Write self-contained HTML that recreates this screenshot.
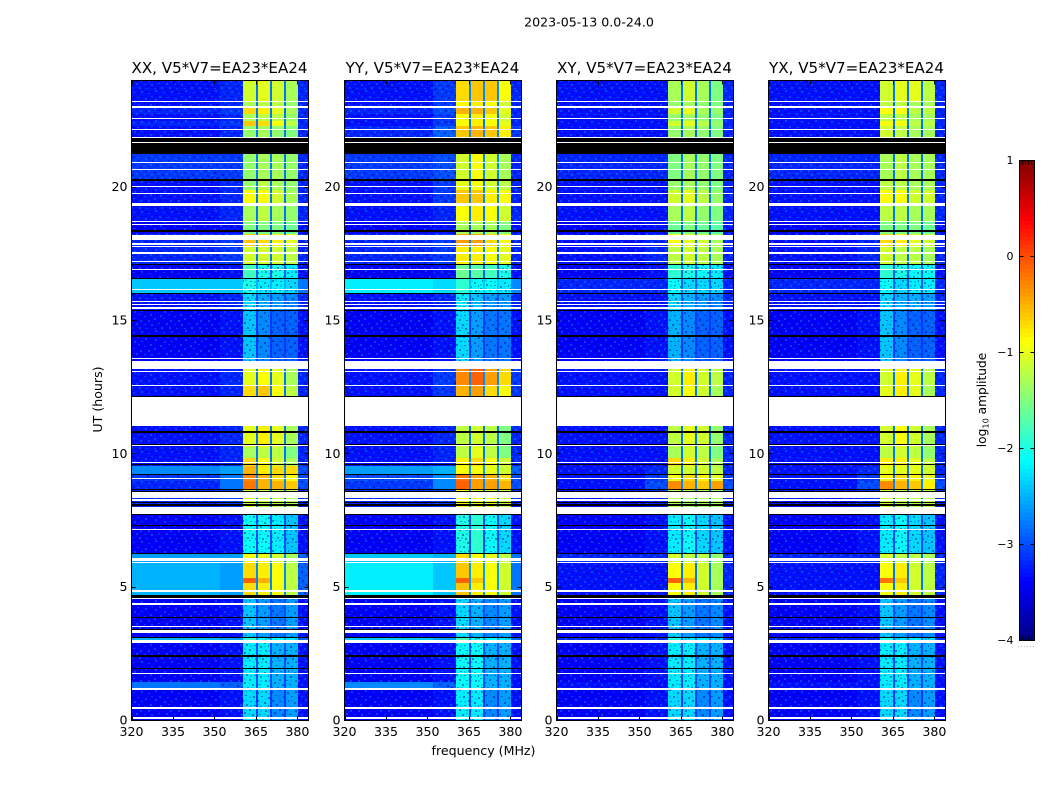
<!DOCTYPE html>
<html>
<head>
<meta charset="utf-8">
<title>2023-05-13 0.0-24.0</title>
<style>
html,body{margin:0;padding:0;background:#fff;}
svg{display:block;}
text{font-family:"DejaVu Sans","Liberation Sans",sans-serif;fill:#000;}
</style>
</head>
<body>
<svg id="chart" width="1050" height="800" viewBox="0 0 1050 800" xmlns="http://www.w3.org/2000/svg">
  <defs>
    <pattern id="speckle" patternUnits="userSpaceOnUse" width="30" height="30">
      <path fill="#00007a" fill-opacity="0.45" d="M1 1h2v2h-2zM9 0h2v1h-2zM17 2h2v2h-2zM25 1h2v2h-2zM5 5h2v1h-2zM13 6h2v2h-2zM21 6h2v1h-2zM28 7h2v2h-2zM2 10h2v2h-2zM10 11h2v1h-2zM18 10h1v2h-1zM24 12h2v2h-2zM6 14h2v2h-2zM14 15h2v1h-2zM20 16h2v2h-2zM28 15h1v2h-1zM0 18h2v1h-2zM9 19h2v2h-2zM16 20h2v1h-2zM25 20h2v2h-2zM4 22h2v2h-2zM12 24h2v2h-2zM19 24h2v1h-2zM27 25h2v2h-2zM1 27h2v1h-2zM7 27h2v2h-2zM15 28h2v2h-2zM22 28h2v2h-2z"/>
      <path fill="#0090ff" fill-opacity="0.45" d="M5 0h2v2h-2zM13 2h2v1h-2zM21 1h2v2h-2zM28 3h2v1h-2zM1 6h2v1h-2zM9 6h2v2h-2zM17 7h2v1h-2zM25 8h2v2h-2zM5 9h2v2h-2zM14 11h2v2h-2zM21 11h2v1h-2zM0 14h2v2h-2zM10 15h2v2h-2zM18 14h2v1h-2zM24 16h2v1h-2zM4 18h2v2h-2zM13 18h2v1h-2zM20 20h2v2h-2zM28 20h2v2h-2zM8 23h2v1h-2zM16 23h2v2h-2zM24 24h2v1h-2zM1 24h2v2h-2zM11 27h2v2h-2zM19 27h2v2h-2zM26 28h2v1h-2zM4 28h2v1h-2z"/>
    </pattern>
  </defs>

  <text x="589" y="26.5" text-anchor="middle" font-size="12.6">2023-05-13 0.0-24.0</text>
  <text x="483.5" y="755" text-anchor="middle" font-size="12.6">frequency (MHz)</text>
  <text transform="translate(102,399.5) rotate(-90)" text-anchor="middle" font-size="12.6">UT (hours)</text>

  <g id="panels"></g>

  <g id="colorbar"></g>
  <text transform="translate(986,400) rotate(-90)" text-anchor="middle" font-size="12.2">log<tspan font-size="8.2" dy="2.5">10</tspan><tspan dy="-2.5"> amplitude</tspan></text>
  <text x="1026.5" y="647" text-anchor="middle" font-size="6" letter-spacing="1" style="fill:#777">......</text>
</svg>

<script>
// ---- Data ----
const panelTitles = ["XX, V5*V7=EA23*EA24", "YY, V5*V7=EA23*EA24", "XY, V5*V7=EA23*EA24", "YX, V5*V7=EA23*EA24"];
const polarisations = ["xx", "yy", "xy", "yx"];
const xTicks = [320, 335, 350, 365, 380];
const yTicks = [0, 5, 10, 15, 20];
const colorbarTicks = [1, 0, -1, -2, -3, -4];
const colorbarTickLabels = ["1", "0", "\u22121", "\u22122", "\u22123", "\u22124"];

// Frequency channels (MHz), low and high edge; each maps to one column of a level row.
const channelLow  = [320, 352, 360.4, 364.9, 365.6, 370.1, 370.7, 375.3, 375.9, 380.1];
const channelHigh = [352, 360.4, 364.9, 365.6, 370.1, 370.7, 375.3, 375.9, 380.1, 384];
const channelColumn = [0, 1, 2, 7, 3, 7, 4, 7, 5, 6];

// Upper edge of every time row, UT hours (the last row runs down to 0).
const rowTops = [24.00, 23.24, 22.98, 22.76, 22.50, 22.31, 21.23, 20.25, 19.88, 19.39, 18.71, 18.23,
  17.76, 17.10, 16.58, 16.01, 15.38, 13.20, 12.56, 12.15, 10.24, 9.86, 9.56, 9.23, 9.00, 8.66, 7.95,
  6.26, 5.89, 5.36, 5.14, 4.65, 3.11, 2.96, 1.43, 1.20];

// log10 amplitude x10. Columns: bg-low, bg-high, band1, band2, band3, band4, upper-edge, notch.
const xx = [
[-33,-32,-11,-10,-11,-13,-32,-28],[-33,-32,-13,-12,-12,-14,-32,-28],[-32,-31,-7,-8,-10,-13,-32,-28],
[-33,-32,-13,-12,-12,-14,-32,-28],[-32,-31,-6,-7,-9,-12,-32,-28],[-33,-32,-14,-13,-14,-15,-32,-28],
[-31,-31,-14,-13,-13,-14,-32,-28],[-33,-32,-14,-12,-13,-14,-32,-28],[-33,-32,-9,-9,-11,-13,-32,-28],
[-33,-32,-13,-12,-13,-14,-32,-28],[-34,-33,-15,-15,-15,-16,-33,-29],[-32,-31,-6,-7,-8,-10,-32,-27],
[-32,-31,-11,-11,-11,-12,-32,-28],[-34,-33,-18,-20,-20,-22,-33,-29],[-24,-24,-20,-22,-22,-23,-28,-25],
[-33,-32,-23,-25,-26,-27,-32,-30],[-34,-33,-24,-27,-29,-29,-33,-31],[-33,-32,-10,-9,-10,-13,-32,-28],
[-33,-32,-7,-6,-9,-12,-32,-28],[-33,-32,-10,-8,-10,-13,-32,-28],[-33,-32,-13,-12,-12,-15,-32,-28],
[-33,-32,-7,-9,-11,-13,-32,-28],[-27,-26,-5,-8,-7,-7,-30,-27],[-31,-28,-3,-5,-7,-9,-30,-27],
[-32,-28,-2,-5,-5,-6,-30,-27],[-32,-31,-11,-12,-12,-12,-32,-28],[-34,-33,-21,-21,-22,-24,-33,-30],
[-26,-26,-9,-10,-11,-13,-29,-27],[-25,-26,-7,-8,-9,-12,-29,-27],[-25,-26,-1,-5,-9,-12,-29,-27],
[-25,-26,-7,-8,-9,-12,-29,-27],[-34,-33,-24,-26,-28,-26,-33,-30],[-25,-26,-19,-21,-21,-22,-29,-26],
[-34,-33,-22,-22,-25,-25,-33,-30],[-28,-29,-22,-22,-25,-25,-33,-30],[-34,-33,-23,-23,-27,-26,-33,-31]
];
const yy = [
[-33,-31,-7,-6,-6,-9,-32,-27],[-33,-31,-9,-8,-9,-11,-32,-28],[-32,-30,-5,-5,-6,-10,-32,-27],
[-33,-31,-9,-8,-9,-11,-32,-28],[-33,-31,-9,-8,-9,-10,-32,-28],[-32,-29,-6,-5,-6,-8,-31,-27],
[-31,-30,-11,-9,-11,-13,-32,-27],[-33,-31,-10,-9,-11,-12,-32,-28],[-33,-31,-6,-6,-8,-9,-32,-27],
[-33,-32,-9,-8,-9,-11,-32,-28],[-34,-33,-13,-13,-13,-15,-33,-29],[-32,-31,-4,-4,-7,-9,-32,-27],
[-32,-31,-8,-8,-9,-10,-32,-27],[-34,-33,-16,-17,-18,-20,-33,-29],[-22,-23,-19,-21,-21,-22,-27,-24],
[-33,-32,-22,-24,-26,-26,-32,-30],[-34,-33,-23,-26,-28,-28,-33,-31],[-33,-31,-3,-1,-4,-7,-31,-27],
[-33,-31,-5,-4,-7,-9,-31,-27],[-33,-32,-12,-11,-12,-15,-32,-28],[-33,-32,-12,-10,-12,-15,-32,-28],
[-33,-32,-8,-7,-9,-11,-32,-27],[-26,-25,-9,-9,-10,-11,-29,-26],[-30,-27,-2,-4,-5,-7,-30,-27],
[-31,-27,-1,-4,-4,-5,-30,-27],[-32,-31,-9,-10,-10,-11,-32,-27],[-34,-33,-20,-19,-21,-23,-33,-30],
[-24,-25,-7,-9,-10,-12,-28,-26],[-22,-24,-6,-8,-9,-11,-28,-26],[-22,-24,-1,-6,-9,-11,-28,-26],
[-22,-24,-6,-8,-9,-11,-28,-26],[-34,-33,-23,-25,-27,-26,-33,-30],[-24,-26,-18,-20,-21,-22,-29,-26],
[-34,-33,-21,-21,-25,-25,-33,-30],[-27,-29,-21,-21,-25,-25,-33,-30],[-34,-33,-22,-22,-27,-26,-33,-31]
];
const xy = [
[-33,-33,-13,-11,-13,-15,-32,-28],[-33,-33,-14,-13,-14,-15,-32,-28],[-33,-33,-11,-10,-13,-14,-32,-28],
[-33,-33,-14,-13,-14,-15,-32,-28],[-33,-33,-11,-10,-12,-14,-32,-28],[-33,-33,-14,-13,-14,-15,-32,-29],
[-32,-32,-15,-13,-14,-15,-32,-28],[-33,-33,-14,-13,-14,-15,-32,-28],[-33,-33,-11,-10,-12,-14,-32,-28],
[-33,-33,-13,-12,-14,-15,-32,-28],[-34,-33,-16,-15,-16,-17,-33,-29],[-33,-32,-9,-10,-11,-13,-32,-28],
[-33,-32,-12,-11,-12,-13,-32,-28],[-34,-33,-19,-20,-21,-22,-33,-29],[-32,-32,-21,-23,-23,-23,-32,-29],
[-33,-33,-23,-25,-26,-27,-32,-30],[-34,-33,-25,-27,-29,-29,-33,-31],[-33,-33,-11,-8,-11,-12,-32,-28],
[-33,-33,-11,-9,-11,-13,-32,-28],[-33,-33,-12,-10,-11,-14,-32,-28],[-33,-33,-13,-11,-12,-15,-32,-28],
[-33,-33,-7,-8,-11,-13,-32,-28],[-33,-32,-11,-11,-11,-12,-32,-28],[-33,-31,-9,-7,-8,-10,-31,-28],
[-33,-30,-3,-5,-6,-4,-30,-27],[-33,-32,-12,-13,-13,-13,-32,-28],[-34,-33,-22,-21,-23,-24,-33,-30],
[-32,-32,-11,-12,-12,-14,-32,-28],[-33,-33,-9,-8,-11,-13,-32,-28],[-33,-33,-1,-5,-11,-13,-32,-28],
[-33,-33,-9,-8,-11,-13,-32,-28],[-34,-33,-24,-26,-28,-27,-33,-30],[-32,-32,-20,-22,-22,-23,-32,-28],
[-34,-33,-22,-22,-25,-25,-33,-30],[-33,-33,-22,-22,-25,-25,-33,-30],[-34,-33,-23,-23,-27,-26,-33,-31]
];
const yx = [
[-33,-33,-11,-10,-10,-12,-32,-28],[-33,-33,-12,-12,-13,-13,-32,-28],[-33,-33,-9,-9,-12,-12,-32,-28],
[-33,-33,-12,-12,-13,-13,-32,-28],[-33,-33,-9,-9,-12,-12,-32,-28],[-33,-33,-11,-12,-13,-13,-32,-29],
[-32,-32,-13,-12,-13,-13,-32,-28],[-33,-33,-12,-12,-13,-13,-32,-28],[-33,-33,-9,-9,-11,-11,-32,-28],
[-33,-33,-12,-12,-13,-13,-32,-28],[-34,-33,-15,-15,-15,-16,-33,-29],[-33,-32,-7,-8,-10,-11,-32,-28],
[-33,-32,-11,-12,-12,-13,-32,-28],[-34,-33,-19,-20,-21,-21,-33,-29],[-32,-32,-21,-23,-22,-22,-32,-29],
[-33,-33,-23,-25,-25,-26,-32,-30],[-34,-33,-24,-27,-29,-29,-33,-31],[-33,-33,-11,-8,-10,-12,-32,-28],
[-33,-33,-10,-8,-10,-13,-32,-28],[-33,-33,-11,-9,-11,-13,-32,-28],[-33,-33,-12,-11,-12,-14,-32,-28],
[-33,-33,-8,-8,-10,-12,-32,-28],[-33,-32,-10,-10,-10,-11,-32,-28],[-33,-31,-8,-7,-8,-10,-31,-28],
[-33,-30,-3,-5,-6,-8,-30,-27],[-33,-32,-11,-12,-12,-12,-32,-28],[-34,-33,-22,-21,-23,-24,-33,-30],
[-32,-32,-11,-12,-12,-13,-32,-28],[-33,-33,-9,-8,-11,-12,-32,-28],[-33,-33,-2,-6,-11,-12,-32,-28],
[-33,-33,-9,-8,-11,-12,-32,-28],[-34,-33,-24,-26,-28,-27,-33,-30],[-32,-32,-20,-22,-22,-23,-32,-28],
[-34,-33,-22,-22,-25,-25,-33,-30],[-33,-33,-22,-22,-25,-25,-33,-30],[-34,-33,-23,-23,-27,-26,-33,-31]
];
const levelsByPol = { xx: xx, yy: yy, xy: xy, yx: yx };

// Flagged time ranges, UT hours: no-data (white) and zero-amplitude (black).
const blackStart = [21.83, 20.30, 18.39, 17.13, 16.59, 16.02, 15.39, 14.44, 12.17, 10.84, 10.38, 9.63, 9.24, 8.67, 8.62, 8.19, 8.12, 7.76, 7.32, 6.30, 4.70, 3.90, 3.43, 3.15, 2.45, 1.97];
const blackEnd   = [21.26, 20.25, 18.32, 17.08, 16.54, 15.98, 15.34, 14.38, 12.12, 10.79, 10.33, 9.58, 9.19, 8.63, 8.56, 8.14, 8.06, 7.71, 7.28, 6.25, 4.59, 3.85, 3.39, 3.11, 2.40, 1.92];
const whiteStart = [23.24, 23.03, 22.59, 22.20, 21.87, 21.68, 20.94, 20.67, 20.04, 19.80, 19.39, 19.32, 18.75, 18.62, 18.20, 17.90, 17.81, 17.56, 17.24, 16.92, 16.18, 15.73, 15.62, 15.50, 13.58, 13.47, 13.11, 12.58, 12.12, 10.32, 9.68, 9.08, 8.56, 8.29, 7.99, 7.93, 7.17, 6.10, 5.96, 4.88, 4.58, 4.40, 3.56, 3.38, 3.01, 1.77, 1.21, 0.50, 0.12];
const whiteEnd   = [23.20, 22.98, 22.55, 22.16, 21.83, 21.64, 20.89, 20.63, 20.00, 19.76, 19.35, 19.28, 18.70, 18.57, 18.03, 17.85, 17.76, 17.51, 17.20, 16.88, 16.14, 15.69, 15.57, 15.45, 13.54, 13.19, 13.06, 12.54, 11.06, 10.28, 9.64, 9.04, 8.35, 8.24, 7.95, 7.76, 7.13, 6.00, 5.89, 4.82, 4.54, 4.35, 3.51, 3.29, 2.90, 1.73, 1.16, 0.45, 0.07];

// ---- Layout and scales ----
const NS = "http://www.w3.org/2000/svg";
const panelLeft = [131.5, 344.5, 556.5, 768.5];
const panelWidth = 177, plotTop = 80.5, plotBottom = 720.5;
const freqMin = 320, freqMax = 384, utMin = 0, utMax = 24;
const levelMin = -4, levelMax = 1, barTop = 160.5, barBottom = 640.5, barLeft = 1019.5, barWidth = 15;

function xScale(p, f) { return panelLeft[p] + (f - freqMin) / (freqMax - freqMin) * panelWidth; }
function yScale(ut) { return plotBottom - (ut - utMin) / (utMax - utMin) * (plotBottom - plotTop); }
function barScale(v) { return barBottom - (v - levelMin) / (levelMax - levelMin) * (barBottom - barTop); }
function clip(v) { return Math.max(0, Math.min(1, v)); }
function jet(level) {
  const t = clip((level - levelMin) / (levelMax - levelMin));
  const r = Math.round(255 * clip(1.5 - Math.abs(4 * t - 3)));
  const g = Math.round(255 * clip(1.5 - Math.abs(4 * t - 2)));
  const b = Math.round(255 * clip(1.5 - Math.abs(4 * t - 1)));
  return "rgb(" + r + "," + g + "," + b + ")";
}
function make(tag, parent) {
  const el = document.createElementNS(NS, tag);
  parent.appendChild(el);
  return el;
}
function place(el, x, y, w, h, fill) {
  el.setAttribute("x", x);
  el.setAttribute("y", y);
  el.setAttribute("width", w);
  el.setAttribute("height", h);
  el.setAttribute("fill", fill);
  el.setAttribute("shape-rendering", "crispEdges");
}
function segment(el, x1, y1, x2, y2) {
  el.setAttribute("x1", x1);
  el.setAttribute("y1", y1);
  el.setAttribute("x2", x2);
  el.setAttribute("y2", y2);
  el.setAttribute("stroke", "#000");
  el.setAttribute("stroke-width", "1");
  el.setAttribute("shape-rendering", "crispEdges");
}

// ---- Panels ----
const panelsRoot = document.getElementById("panels");
polarisations.forEach(function (pol, p) {
  const g = make("g", panelsRoot);
  
  

  // Heatmap cells, snapped to whole pixels; quiet cells also get the noise texture
  const levels = levelsByPol[pol];
  rowTops.forEach(function (top, r) {
    const bottom = r + 1 < rowTops.length ? rowTops[r + 1] : utMin;
    channelLow.forEach(function (low, c) {
      const column = channelColumn[c];
      const value = levels[r][column] / 10;
      const x0 = Math.round(xScale(p, low)), x1 = Math.round(xScale(p, channelHigh[c]));
      const y0 = Math.round(yScale(top)), y1 = Math.round(yScale(bottom));
      const cell = make("rect", g);
      
      
      place(cell, x0, y0, x1 - x0, y1 - y0, jet(value));
      const isBand = column >= 2 && column <= 5;
      if (column !== 7 && value < (isBand ? -1.9 : -2.8)) {
        const noise = make("rect", g);
        
        
        place(noise, x0, y0, x1 - x0, y1 - y0, "url(#speckle)");
      }
    });
  });

  // Flags, snapped so thin lines stay solid
  blackStart.forEach(function (s, i) {
    const y0 = Math.round(yScale(s));
    const y1 = Math.max(y0 + 1, Math.round(yScale(blackEnd[i])));
    const flag = make("rect", g);
    
    
    place(flag, panelLeft[p], y0, panelWidth, y1 - y0, "#000");
  });
  whiteStart.forEach(function (s, i) {
    const y0 = Math.round(yScale(s));
    const y1 = Math.max(y0 + 1, Math.round(yScale(whiteEnd[i])));
    const flag = make("rect", g);
    
    
    place(flag, panelLeft[p], y0, panelWidth, y1 - y0, "#fff");
  });

  // Frame
  const frame = make("rect", g);
  
  
  place(frame, panelLeft[p], plotTop, panelWidth, plotBottom - plotTop, "none");
  frame.setAttribute("stroke", "#000");
  frame.setAttribute("stroke-width", "1");

  // X ticks
  xTicks.forEach(function (t) {
    const x = Math.round(xScale(p, t)) + 0.5;
    const tickB = make("line", g);
    
    
    segment(tickB, x, plotBottom, x, plotBottom - 4);
    const tickT = make("line", g);
    
    
    segment(tickT, x, plotTop, x, plotTop + 4);
    const label = make("text", g);
    
    
    label.setAttribute("x", xScale(p, t));
    label.setAttribute("y", 736);
    label.setAttribute("text-anchor", "middle");
    label.setAttribute("font-size", "12.6");
    label.textContent = t;
  });

  // Y ticks
  yTicks.forEach(function (t) {
    const y = Math.round(yScale(t) - 0.5) + 0.5;
    const tickL = make("line", g);
    
    
    segment(tickL, panelLeft[p], y, panelLeft[p] + 4, y);
    const tickR = make("line", g);
    
    
    segment(tickR, panelLeft[p] + panelWidth, y, panelLeft[p] + panelWidth - 4, y);
    const label = make("text", g);
    
    
    label.setAttribute("x", panelLeft[p] - 4);
    label.setAttribute("y", yScale(t) + 4);
    label.setAttribute("text-anchor", "end");
    label.setAttribute("font-size", "12.6");
    label.textContent = t;
  });

  // Title
  const title = make("text", g);
  
  
  title.setAttribute("x", panelLeft[p] + panelWidth / 2 - 0.5);
  title.setAttribute("y", 73);
  title.setAttribute("text-anchor", "middle");
  title.setAttribute("font-size", "15.1");
  title.textContent = panelTitles[p];
});

// ---- Colorbar ----
const barRoot = document.getElementById("colorbar");
const barSteps = 120;
for (let i = 0; i < barSteps; i++) {
  const v0 = levelMin + (levelMax - levelMin) * i / barSteps;
  const v1 = levelMin + (levelMax - levelMin) * (i + 1) / barSteps;
  const strip = make("rect", barRoot);
  
  
  place(strip, barLeft, barScale(v1), barWidth, barScale(v0) - barScale(v1) + 0.5, jet((v0 + v1) / 2));
}
colorbarTicks.forEach(function (v, i) {
  const y = Math.round(barScale(v) - 0.5) + 0.5;
  const tl = make("line", barRoot);
  
  
  segment(tl, barLeft, y, barLeft + 4, y);
  const tr = make("line", barRoot);
  
  
  segment(tr, barLeft + barWidth, y, barLeft + barWidth - 4, y);
  const label = make("text", barRoot);
  
  
  label.setAttribute("x", barLeft - 6);
  label.setAttribute("y", barScale(v) + 3.5);
  label.setAttribute("text-anchor", "end");
  label.setAttribute("font-size", "11");
  label.textContent = colorbarTickLabels[i];
});
[3, 6, 9, 12].forEach(function (dx) {
  const top = make("line", barRoot);
  
  
  segment(top, barLeft + dx, barTop, barLeft + dx, barTop + 4);
  const bottom = make("line", barRoot);
  
  
  segment(bottom, barLeft + dx, barBottom, barLeft + dx, barBottom - 4);
});
const barFrame = make("rect", barRoot);


place(barFrame, barLeft, barTop, barWidth, barBottom - barTop, "none");
barFrame.setAttribute("stroke", "#000");
barFrame.setAttribute("stroke-width", "1");
</script>
</body>
</html>
